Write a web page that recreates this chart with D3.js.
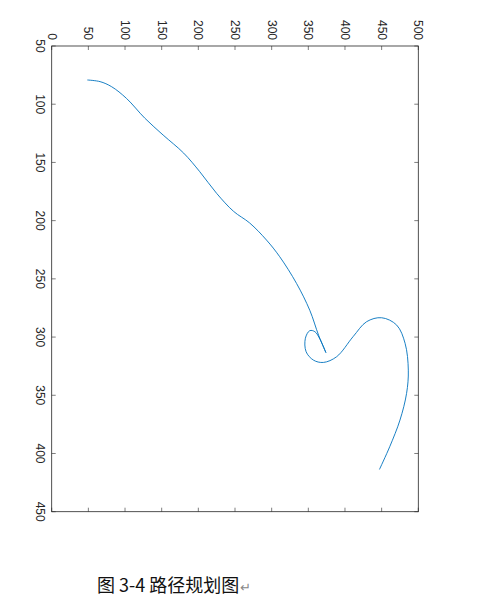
<!DOCTYPE html><html><head><meta charset="utf-8"><script src="https://cdn.jsdelivr.net/npm/d3@7"></script>
<style>body{margin:0;background:#fff}</style></head><body><svg width="479" height="607"></svg>
<script>
const hVals=[48.6,66,81.8,102,127,152,180,202,225,248,270,293,311,334,352,364,374,366,359,352,346,347,357,370.5,388.6,411,429.5,450,470.5,482,486.4,484,475,461,447];
const vVals=[79.2,80.6,85,95,112,126.5,142,158,176.6,192,202,216.7,231,254,277,298.4,313.4,302,295.4,294.5,301,312.6,319.8,321.8,316.9,299.7,286.8,283.4,289.7,305.4,328.4,348.4,371.3,394.2,413.7];
const hTicks=[0,50,100,150,200,250,300,350,400,450,500];
const vTicks=[50,100,150,200,250,300,350,400,450];
const caption="图 3-4 路径规划图";
const svg=d3.select("svg");
const L=51.7,R=418.3,T=46,B=511.7;
const x=d3.scaleLinear().domain([0,500]).range([L,R]);
const y=d3.scaleLinear().domain([50,450]).range([T,B]);
const g=svg.append("g");
const c="#262626";
// ticks
hTicks.forEach(t=>{
 g.append("line").attr("x1",x(t)).attr("x2",x(t)).attr("y1",T).attr("y2",T+4).attr("stroke",c).attr("stroke-width",0.6);
 g.append("line").attr("x1",x(t)).attr("x2",x(t)).attr("y1",B).attr("y2",B-4).attr("stroke",c).attr("stroke-width",0.6);
 g.append("text").attr("transform",`translate(${x(t)},${T-6}) rotate(90)`).attr("text-anchor","end").attr("dominant-baseline","central")
  .attr("font-family","Liberation Sans, Arial").attr("font-size",12).attr("fill",c).text(t);
});
vTicks.forEach(t=>{
 g.append("line").attr("x1",L).attr("x2",L+4).attr("y1",y(t)).attr("y2",y(t)).attr("stroke",c).attr("stroke-width",0.6);
 g.append("line").attr("x1",R).attr("x2",R-4).attr("y1",y(t)).attr("y2",y(t)).attr("stroke",c).attr("stroke-width",0.6);
 g.append("text").attr("transform",`translate(${L-12},${y(t)}) rotate(90)`).attr("text-anchor","middle").attr("dominant-baseline","central")
  .attr("font-family","Liberation Sans, Arial").attr("font-size",12).attr("fill",c).text(t);
});
g.append("rect").attr("x",L).attr("y",T).attr("width",R-L).attr("height",B-T).attr("fill","none").attr("stroke",c).attr("stroke-width",0.8);
const pts=hVals.map((h,i)=>[x(h),y(vVals[i])]);
g.append("path").attr("d",d3.line().curve(d3.curveCatmullRom.alpha(0.5))(pts)).attr("fill","none").attr("stroke","#0072BD").attr("stroke-width",0.9);
const tx=svg.append("text").attr("x",97).attr("y",592).attr("font-family","Noto Sans CJK SC").attr("font-size",18).attr("fill","#111").text(caption);
svg.append("text").attr("x",97+tx.node().getComputedTextLength()+1).attr("y",592).attr("font-family","DejaVu Sans").attr("font-size",13).attr("fill","#888").text("↵");
</script></body></html>
